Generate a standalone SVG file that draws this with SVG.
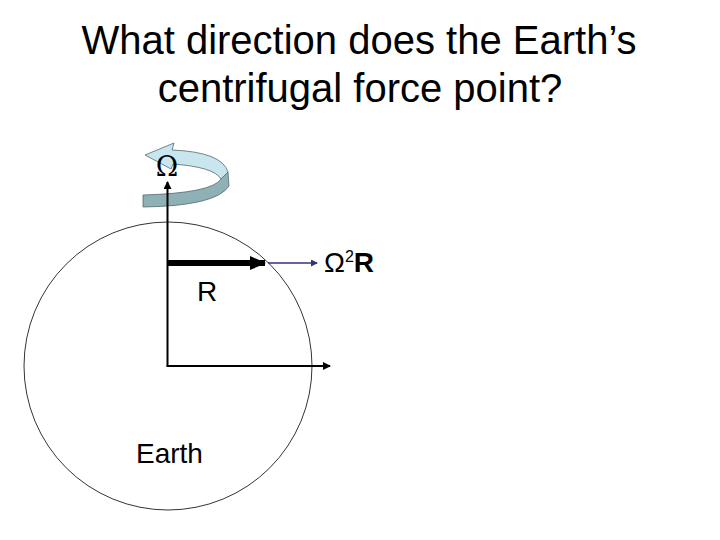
<svg xmlns="http://www.w3.org/2000/svg" width="720" height="540" viewBox="0 0 720 540">
<style>
.t{font-family:"Liberation Sans",Arial,sans-serif;fill:#000}
.ln{stroke:#000;fill:none}
</style>
<defs>
<marker id="ah" markerWidth="8" markerHeight="8" refX="7" refY="4" orient="auto" markerUnits="userSpaceOnUse"><path d="M0,0 L8,4 L0,8 Z" fill="#000"/></marker>
<marker id="ahb" markerWidth="7" markerHeight="7" refX="6" refY="3.5" orient="auto" markerUnits="userSpaceOnUse"><path d="M0,0 L7,3.5 L0,7 Z" fill="#33337a"/></marker>
<marker id="ahk" markerWidth="16" markerHeight="14" refX="15" refY="7" orient="auto" markerUnits="userSpaceOnUse"><path d="M0,0 L16,7 L0,14 Z" fill="#000"/></marker>
</defs>
<rect width="720" height="540" fill="#fff"/>
<g id="title">
<text class="t" x="359" y="54" font-size="40" text-anchor="middle">What direction does the Earth’s</text>
<text class="t" x="360" y="102" font-size="40" text-anchor="middle">centrifugal force point?</text>
</g>
<g id="earth">
<circle cx="168" cy="366" r="144" fill="none" stroke="#000" stroke-width="0.8"/>
<text class="t" x="136" y="463" font-size="28">Earth</text>
</g>
<g id="rotation">
<path d="M228,172 L229,186 Q216,206 143,207 L143,195 Q212,193 221,179 Z" fill="#8fb0b4" stroke="#506a70" stroke-width="0.8"/>
<path d="M145,155 L174,143 L172,150 Q222,152 228,172 L221,179 Q214,167 173,164 L171,169 Z" fill="#c9e5ee" stroke="#506a70" stroke-width="0.8"/>
<text x="167" y="176" text-anchor="middle" font-family="'DejaVu Serif',serif" font-size="27" fill="#000">Ω</text>
</g>
<g id="connectors">
<line class="ln" x1="167.5" y1="366" x2="167.5" y2="182" stroke-width="2" marker-end="url(#ah)"/>
<line class="ln" x1="166.5" y1="366" x2="330" y2="366" stroke-width="2" marker-end="url(#ah)"/>
<line class="ln" x1="168" y1="263" x2="265" y2="263" stroke-width="6" marker-end="url(#ahk)"/>
<line x1="268" y1="263" x2="317" y2="263" stroke="#33337a" stroke-width="1.5" marker-end="url(#ahb)"/>
</g>
<g id="labels">
<text class="t" x="197" y="301" font-size="28">R</text>
<text class="t" x="324" y="272" font-size="28">Ω<tspan font-size="16" dy="-10">2</tspan><tspan dy="10" font-weight="bold">R</tspan></text>
</g>
</svg>
